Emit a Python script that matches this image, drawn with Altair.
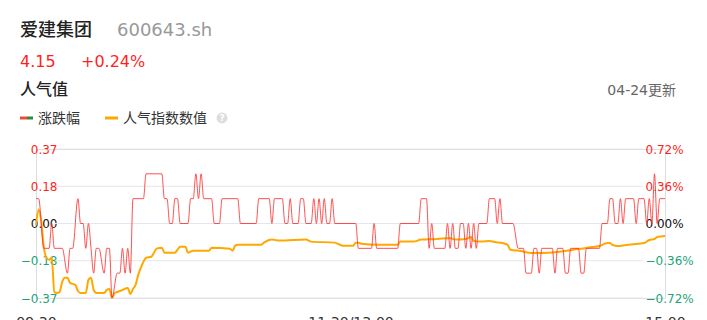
import altair as alt
import pandas as pd

FONT = "DejaVu Sans, Noto Sans CJK SC"
RED = "#ff3030"
RED_TEXT = "#ff1f1f"
GREEN = "#1fa37a"
ORANGE = "#ffa800"
GRID = "#e3e6ef"

# header texts
stock_name = "爱建集团"
stock_code = "600643.sh"
last_price = "4.15"
price_change = "+0.24%"
section_title = "人气值"
update_note = "04-24更新"
legend_change = "涨跌幅"
legend_heat = "人气指数数值"

# trading minutes since 09:30 (lunch break removed), 0..240
x_tick_values = [0, 120, 240]
x_tick_labels = ["09:30", "11:30/13:00", "15:00"]

# left axis: popularity index change
left_ticks = [-0.37, -0.1849, 0.0, 0.1849, 0.37]
# right axis: price change in percent
right_ticks = [-0.72, -0.36, 0.0, 0.36, 0.72]

# popularity index (left scale)
heat_t = [0, 1, 2, 3, 4, 5, 6, 7, 8, 9, 10, 11, 12, 13, 14, 15, 16, 17, 19, 20,
          21, 22, 23, 26, 27, 28, 29, 30, 31, 33, 35, 36, 37, 38, 39, 40, 41, 42,
          44, 45, 46, 48, 49, 53, 54, 55, 57, 58, 60, 66, 67, 74, 75, 76, 77, 86,
          87, 90, 93, 103, 105, 114, 117, 121, 122, 123, 124, 131, 138, 139, 144,
          147, 153, 158, 160, 164, 166, 167, 170, 173, 175, 178, 180, 181, 185,
          189, 193, 199, 205, 210, 212, 215, 217, 218, 219, 220, 222, 225, 230,
          232, 234, 236, 237, 240]
heat_v = [-0.01, 0.07, 0.01, -0.12, -0.17, -0.18, -0.17, -0.34, -0.345, -0.34,
          -0.29, -0.27, -0.27, -0.295, -0.30, -0.305, -0.335, -0.345, -0.345,
          -0.28, -0.27, -0.33, -0.345, -0.345, -0.33, -0.325, -0.37, -0.345,
          -0.34, -0.33, -0.32, -0.35, -0.325, -0.305, -0.255, -0.22, -0.19,
          -0.17, -0.165, -0.145, -0.125, -0.12, -0.145, -0.145, -0.13, -0.115,
          -0.115, -0.145, -0.135, -0.135, -0.12, -0.125, -0.135, -0.11, -0.105,
          -0.105, -0.095, -0.08, -0.085, -0.08, -0.09, -0.095, -0.11, -0.11,
          -0.095, -0.095, -0.10, -0.105, -0.105, -0.09, -0.09, -0.08, -0.077,
          -0.072, -0.08, -0.077, -0.067, -0.087, -0.09, -0.087, -0.092, -0.097,
          -0.107, -0.13, -0.137, -0.147, -0.147, -0.142, -0.13, -0.122, -0.117,
          -0.112, -0.10, -0.097, -0.097, -0.107, -0.112, -0.107, -0.10, -0.097,
          -0.082, -0.077, -0.067, -0.062]

# price change in percent (right scale)
chg_t = [0, 1, 3, 5, 6, 7, 10, 12, 13, 14, 16, 17, 18, 19, 20, 21, 22, 23, 24,
         26, 27, 28, 29, 31, 32, 33, 34, 35, 36, 37, 41, 42, 48, 49, 50, 51, 52,
         53, 54, 55, 58, 59, 60, 61, 62, 63, 64, 67, 68, 70, 71, 77, 78, 84, 85,
         89, 90, 91, 94, 95, 96, 97, 98, 100, 101, 102, 103, 105, 106, 107, 108,
         109, 110, 111, 112, 113, 114, 122, 123, 128, 129, 130, 138, 139, 146,
         147, 149, 150, 151, 152, 156, 157, 158, 159, 160, 161, 162, 163, 164,
         165, 166, 167, 168, 169, 172, 173, 175, 176, 177, 178, 182, 184, 186,
         187, 189, 190, 191, 192, 193, 197, 198, 199, 201, 202, 203, 204, 207,
         208, 209, 210, 215, 216, 218, 219, 220, 221, 222, 223, 224, 225, 228,
         229, 230, 232, 233, 234, 235, 236, 237, 238, 240]
chg_p = [0.24, 0.24, -0.24, -0.24, 0, -0.24, -0.24, -0.48, -0.24, -0.24, 0.24,
         0, 0, -0.24, 0, -0.24, -0.48, -0.24, -0.24, -0.48, -0.24, -0.24, -0.72,
         -0.48, -0.48, -0.24, -0.48, -0.24, -0.48, 0.24, 0.24, 0.48, 0.48, 0.24,
         0.24, 0, 0, 0.24, 0.24, 0, 0, 0.24, 0.24, 0.48, 0.24, 0.48, 0.24, 0.24,
         0, 0, 0.24, 0.24, 0, 0, 0.24, 0.24, 0, 0.24, 0.24, 0, 0, 0.24, 0, 0,
         0.24, 0.24, 0, 0, 0.24, 0, 0.24, 0, 0.24, 0, 0, 0.24, 0, 0, -0.24,
         -0.24, 0, -0.24, -0.24, 0, 0, 0.24, 0.24, -0.24, 0, -0.24, -0.24, 0,
         -0.24, 0, -0.24, -0.24, 0, 0, -0.24, 0, -0.24, 0, -0.24, 0, 0, 0.24,
         0.24, 0, 0.24, 0, 0, -0.24, -0.24, -0.48, -0.48, -0.24, -0.24, -0.48,
         -0.24, -0.24, -0.48, -0.24, -0.24, -0.48, -0.48, -0.24, -0.24, -0.48,
         -0.48, -0.24, -0.24, 0, 0, 0.24, 0.24, 0, 0, 0.24, 0, 0.24, 0.24, 0,
         0.24, 0.24, 0, 0.24, 0, 0.48, 0, 0.24, 0.24]

heat_df = pd.DataFrame({"t": heat_t, "v": heat_v})
chg_df = pd.DataFrame({"t": chg_t, "p": chg_p})
grid_df = pd.DataFrame({"g": left_ticks})

label_expr = " : ".join(
    f"datum.value == {v} ? '{s}'" for v, s in zip(x_tick_values, x_tick_labels)
) + " : ''"

x_scale = alt.Scale(domain=[0, 240], nice=False, zero=False)
left_scale = alt.Scale(domain=[-0.37, 0.37], nice=False, zero=False)
right_scale = alt.Scale(domain=[-0.72, 0.72], nice=False, zero=False)

sign_color = {
    "condition": [
        {"test": "datum.value > 0.0001", "value": RED_TEXT},
        {"test": "datum.value < -0.0001", "value": GREEN},
    ],
    "value": "#111111",
}

x_axis = alt.Axis(
    values=x_tick_values, labelExpr=label_expr, grid=False, domain=False,
    ticks=False, tickSize=0, labelPadding=17, labelFontSize=14,
    labelColor="#333333", labelFont=FONT, labelFlush=False, title=None,
    labelOverlap=False,
)

left_axis = alt.Axis(
    values=left_ticks, format=".2f", grid=False, domain=False, ticks=False,
    tickSize=0, labelPadding=-21, labelFontSize=12, labelFont=FONT,
    labelColor=sign_color, title=None, labelOverlap=False,
)

right_axis = alt.Axis(
    orient="right", values=right_ticks, labelExpr="format(datum.value, '.2f') + '%'",
    grid=False, domain=False, ticks=False, tickSize=0, labelPadding=-20,
    labelFontSize=12, labelFont=FONT, labelColor=sign_color, title=None,
    labelOverlap=False,
)

x_enc = alt.X("t:Q", scale=x_scale, axis=x_axis)

grid = alt.Chart(grid_df).mark_rule(color=GRID, strokeWidth=1).encode(
    y=alt.Y("g:Q", scale=left_scale, axis=None),
    x=alt.value(19),
    x2=alt.value(607),
)

heat_line = alt.Chart(heat_df).mark_line(
    interpolate="monotone", color=ORANGE, strokeWidth=2
).encode(
    x=x_enc,
    y=alt.Y("v:Q", scale=left_scale, axis=left_axis),
)

chg_line = alt.Chart(chg_df).mark_line(
    interpolate="monotone", color=RED, strokeWidth=1, opacity=0.85
).encode(
    x=x_enc,
    y=alt.Y("p:Q", scale=right_scale, axis=right_axis),
)


def label(text, x, y, size, color, weight="normal", align="left"):
    return alt.Chart(pd.DataFrame({"s": [text]})).mark_text(
        align=align, baseline="middle", fontSize=size, color=color,
        font=FONT, fontWeight=weight,
    ).encode(text="s:N", x=alt.value(x), y=alt.value(y))


def swatch(x1, x2, y, color):
    return alt.Chart(pd.DataFrame({"s": [0]})).mark_rule(
        color=color, strokeWidth=3
    ).encode(x=alt.value(x1), x2=alt.value(x2), y=alt.value(y))


header = [
    label(stock_name, -16, -118, 18, "#222222", weight=500),
    label(stock_code, 81, -118, 18, "#999999"),
    label(last_price, -16, -87, 16, RED_TEXT),
    label(price_change, 45, -87, 16, RED_TEXT),
    label(section_title, -16, -59, 16, "#222222", weight=500),
    label(update_note, 640, -58, 14, "#666666", align="right"),
    swatch(-16, -9, -31, "#f04a3a"),
    swatch(-9, -3, -31, "#2e8b3a"),
    label(legend_change, 2, -30, 14, "#333333"),
    swatch(69, 82, -31, ORANGE),
    label(legend_heat, 87, -30, 14, "#333333"),
    alt.Chart(pd.DataFrame({"s": [0]})).mark_circle(
        color="#dddddd", opacity=1, size=120
    ).encode(x=alt.value(186), y=alt.value(-31)),
    label("?", 186, -31, 9, "#ffffff", weight="bold", align="center"),
]

chart = alt.layer(grid, heat_line, chg_line, *header).resolve_scale(
    y="independent"
).properties(
    width=629,
    height=149,
    autosize=alt.AutoSizeParams(type="none"),
    padding={"left": 36, "top": 149, "right": 42, "bottom": 22},
).configure_view(stroke=None).configure(background="white")

chart.save("out.html", embed_options={"renderer": "svg", "actions": False})
